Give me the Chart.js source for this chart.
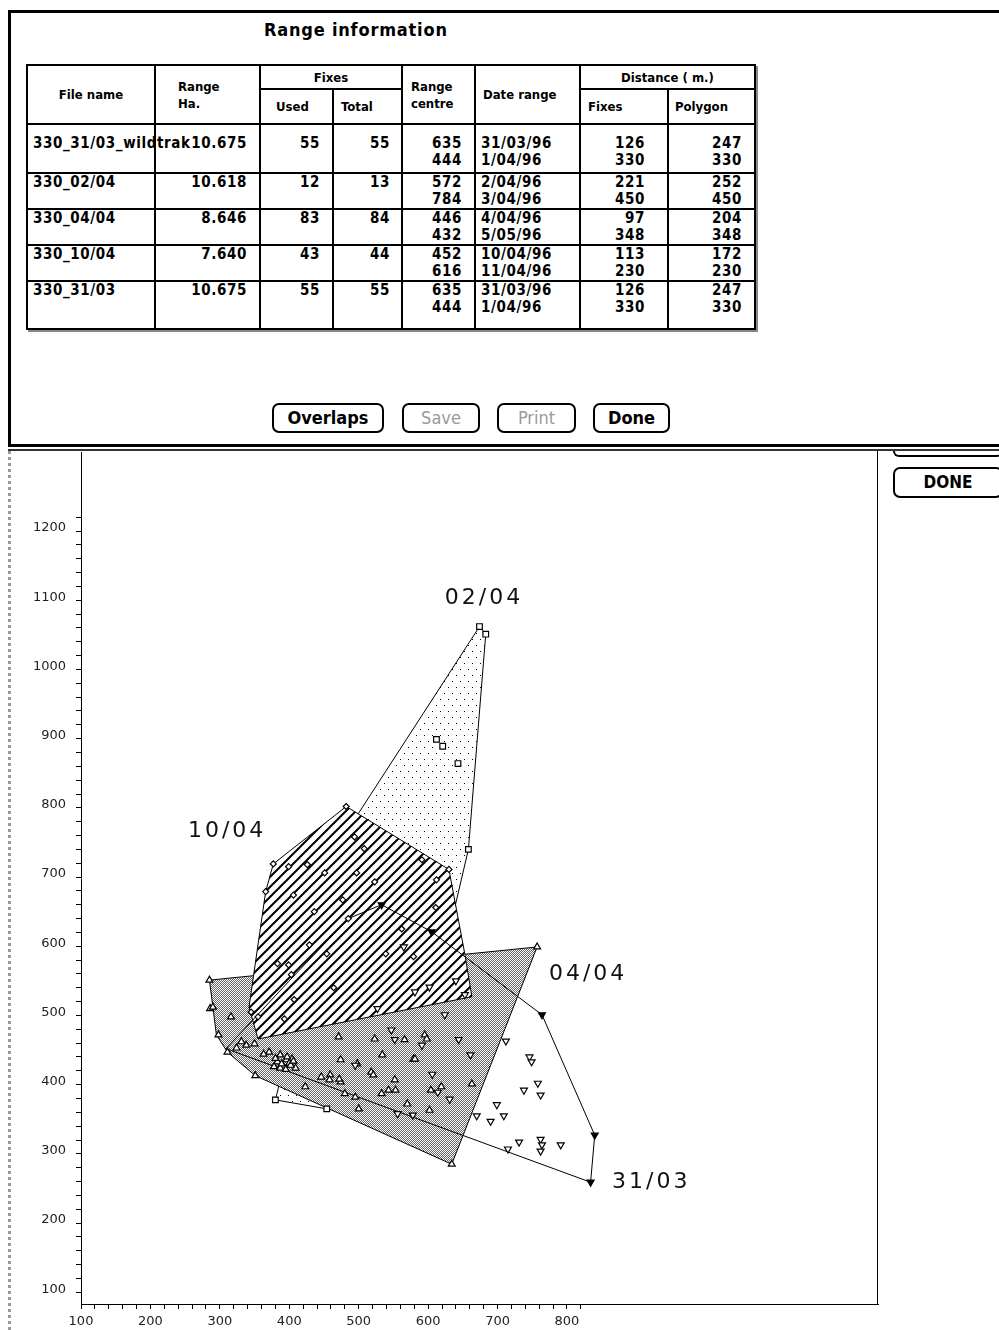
<!DOCTYPE html>
<html>
<head>
<meta charset="utf-8">
<script src="https://cdn.jsdelivr.net/npm/chart.js@4.4.1/dist/chart.umd.min.js"></script>
<style>
html, body { margin: 0; padding: 0; background: #fff; }
body { width: 999px; height: 1330px; position: relative; overflow: hidden; font-family: "DejaVu Sans Condensed", "DejaVu Sans", sans-serif; color: #000; }
#panel { position: absolute; left: 8px; top: 10px; width: 1000px; height: 437px; box-sizing: border-box; border: 3px solid #000; border-right: none; background: #fff; z-index: 2; }
#title { position: absolute; left: 264px; top: 19px; font-weight: bold; font-size: 18px; letter-spacing: 0.8px; z-index: 3; }
#rangeTable { position: absolute; left: 26px; top: 64px; border-collapse: collapse; table-layout: fixed; width: 727px; z-index: 3; box-shadow: 2px 2px 0 #888; background: #fff; }
#rangeTable th, #rangeTable td { border: 2px solid #000; padding: 0; overflow: visible; white-space: nowrap; }
#rangeTable th { font-size: 13px; font-weight: bold; text-align: center; vertical-align: middle; line-height: 17px; }
#rangeTable th.l { text-align: left; }
#rangeTable td { font-size: 15px; font-weight: bold; letter-spacing: 0.6px; line-height: 17px; vertical-align: top; }
.btn { position: absolute; top: 403px; height: 30px; box-sizing: border-box; border: 2px solid #000; border-radius: 7px; font-weight: bold; font-size: 18px; text-align: center; line-height: 26px; background: #fff; z-index: 3; }
.btn.off { color: #9a9a9a; font-weight: normal; }
#winLine { position: absolute; left: 8px; top: 449px; width: 991px; height: 2px; background: #333; z-index: 4; }
#leftEdge { position: absolute; left: 8px; top: 451px; height: 879px; border-left: 3px dotted #999; z-index: 4; }
#rightEdge { position: absolute; left: 877px; top: 451px; width: 1px; height: 854px; background: #000; z-index: 4; }
#chartBox { position: absolute; left: 0; top: 447px; width: 999px; height: 883px; z-index: 1; }
#doneTop { position: absolute; left: 893px; top: 451px; width: 110px; height: 6px; box-sizing: border-box; border: 2px solid #000; border-top: none; border-radius: 0 0 7px 7px; background: #fff; z-index: 3; }
#doneBtn { position: absolute; left: 893px; top: 467px; width: 110px; height: 31px; box-sizing: border-box; border: 2px solid #000; border-radius: 7px; font-weight: bold; font-size: 17px; line-height: 27px; text-align: center; background: #fff; z-index: 3; }
</style>
</head>
<body>
<div id="panel"></div>
<div id="title">Range information</div>
<table id="rangeTable">
  <colgroup>
    <col style="width:128px"><col style="width:105px"><col style="width:73px"><col style="width:69px">
    <col style="width:73px"><col style="width:105px"><col style="width:88px"><col style="width:87px">
  </colgroup>
  <thead>
    <tr style="height:24px">
      <th rowspan="2">File name</th>
      <th rowspan="2" class="l" style="padding-left:22px">Range<br>Ha.</th>
      <th colspan="2">Fixes</th>
      <th rowspan="2" class="l" style="padding-left:8px">Range<br>centre</th>
      <th rowspan="2" class="l" style="padding-left:7px">Date range</th>
      <th colspan="2">Distance ( m.)</th>
    </tr>
    <tr style="height:35px">
      <th class="l" style="padding-left:15px">Used</th>
      <th class="l" style="padding-left:7px">Total</th>
      <th class="l" style="padding-left:7px">Fixes</th>
      <th class="l" style="padding-left:6px">Polygon</th>
    </tr>
  </thead>
  <tbody id="tableBody"></tbody>
</table>
<div class="btn" style="left:272px; width:112px">Overlaps</div>
<div class="btn off" style="left:402px; width:78px">Save</div>
<div class="btn off" style="left:497px; width:79px">Print</div>
<div class="btn" style="left:593px; width:77px">Done</div>

<div id="chartBox"><canvas id="rangeChart" width="999" height="883"></canvas></div>
<div id="winLine"></div>
<div id="leftEdge"></div>
<div id="rightEdge"></div>
<div id="doneTop"></div>
<div id="doneBtn">DONE</div>

<script>
// ---- table values ----
const fileNames = ['330_31/03_wildtrak', '330_02/04', '330_04/04', '330_10/04', '330_31/03'];
const rangeHa = ['10.675', '10.618', '8.646', '7.640', '10.675'];
const fixesUsed = [55, 12, 83, 43, 55];
const fixesTotal = [55, 13, 84, 44, 55];
const centreX = [635, 572, 446, 452, 635];
const centreY = [444, 784, 432, 616, 444];
const dateStart = ['31/03/96', '2/04/96', '4/04/96', '10/04/96', '31/03/96'];
const dateEnd = ['1/04/96', '3/04/96', '5/05/96', '11/04/96', '1/04/96'];
const distFixesFirst = [126, 221, 97, 113, 126];
const distFixesSecond = [330, 450, 348, 230, 330];
const distPolyFirst = [247, 252, 204, 172, 247];
const distPolySecond = [330, 450, 348, 230, 330];

// ---- plot values (metres) ----
const rangeNames = ['02/04', '10/04', '04/04', '31/03'];
const labelX = [624, 254, 774, 865];
const labelY = [1103, 766, 560, 259];

const xTickLabels = [100, 200, 300, 400, 500, 600, 700, 800];
const yTickLabels = [100, 200, 300, 400, 500, 600, 700, 800, 900, 1000, 1100, 1200];

// polygons (convex hulls)
const poly0204X = [674, 683, 658, 637, 454, 380, 384, 417, 674];
const poly0204Y = [1062, 1051, 740, 650, 365, 378, 394, 664, 1062];
const poly1004X = [482, 377, 366, 342, 355, 663, 653, 630, 482];
const poly1004Y = [802, 719, 679, 512, 466, 527, 588, 711, 802];
const poly0404X = [285, 757, 634, 351, 311, 295, 290, 285];
const poly0404Y = [551, 599, 285, 413, 447, 472, 512, 551];
const poly3103X = [834, 840, 764, 605, 533, 485, 399, 309, 834];
const poly3103Y = [259, 327, 501, 621, 660, 640, 549, 452, 259];

// fixes
const fix0204X = [674, 683, 612, 621, 643, 658, 380, 454];
const fix0204Y = [1062, 1051, 899, 889, 864, 740, 378, 365];
const fix1004X = [482, 377, 366, 494, 508, 591, 612, 426, 399, 451, 497, 523, 406, 477, 436, 611, 485, 429, 454, 383, 399, 539, 579, 403, 464, 407, 393, 355, 345, 562, 630];
const fix1004Y = [802, 719, 679, 758, 741, 725, 696, 718, 715, 706, 706, 693, 674, 667, 650, 656, 640, 602, 589, 575, 573, 589, 585, 559, 540, 523, 495, 498, 505, 625, 711];
const fix0404X = [286, 316, 298, 338, 350, 371, 387, 396, 404, 423, 446, 459, 474, 471, 498, 518, 534, 566, 579, 595, 604, 543, 553, 570, 480, 495, 500, 663, 602, 523, 474, 757, 634, 351, 285, 311, 290, 383, 391, 400, 409, 387, 397, 331, 324, 363, 521, 552, 533, 472, 458, 581, 598, 619, 380, 389, 395, 402, 406, 378];
const fix0404Y = [510, 498, 472, 457, 459, 447, 443, 436, 437, 397, 411, 414, 404, 469, 430, 418, 443, 465, 437, 472, 392, 392, 392, 372, 387, 382, 365, 401, 363, 466, 436, 599, 285, 413, 551, 447, 512, 433, 427, 431, 424, 424, 440, 462, 453, 444, 414, 407, 387, 408, 407, 437, 466, 397, 438, 430, 422, 428, 434, 426];
const fix3103X = [712, 746, 749, 758, 738, 762, 699, 709, 670, 690, 731, 715, 762, 764, 762, 791, 565, 581, 602, 640, 653, 527, 624, 547, 552, 591, 644, 661, 495, 606, 614, 631, 556, 578];
const fix3103Y = [463, 440, 433, 402, 392, 385, 371, 355, 355, 347, 317, 307, 321, 313, 304, 313, 599, 534, 541, 550, 530, 510, 501, 479, 465, 457, 465, 443, 428, 415, 389, 379, 358, 356];
const vert3103X = [764, 840, 834, 533, 605];
const vert3103Y = [501, 327, 259, 660, 621];

function buildTable() {
    let body = document.getElementById('tableBody');
    let rowHeights = [49, 35, 36, 35, 48];
    for (let i = 0; i < fileNames.length; i++) {
        let tr = document.createElement('tr');
        tr.style.height = rowHeights[i] + 'px';
        let top = i === 0 ? '10px' : '0px';
        let cells = [
            [fileNames[i], 'left', 5],
            [rangeHa[i], 'right', 12],
            [fixesUsed[i], 'right', 12],
            [fixesTotal[i], 'right', 11],
            [centreX[i] + '<br>' + centreY[i], 'right', 12],
            [dateStart[i] + '<br>' + dateEnd[i], 'left', 5],
            [distFixesFirst[i] + '<br>' + distFixesSecond[i], 'right', 22],
            [distPolyFirst[i] + '<br>' + distPolySecond[i], 'right', 12]
        ];
        for (let j = 0; j < cells.length; j++) {
            let td = document.createElement('td');
            td.innerHTML = cells[j][0];
            td.style.textAlign = cells[j][1];
            td.style.paddingTop = top;
            if (cells[j][1] === 'left') td.style.paddingLeft = cells[j][2] + 'px';
            else td.style.paddingRight = cells[j][2] + 'px';
            tr.appendChild(td);
        }
        body.appendChild(tr);
    }
}

function toPoints(xs, ys) {
    let pts = [];
    for (let i = 0; i < xs.length; i++) pts.push({x: xs[i], y: ys[i]});
    return pts;
}

function makeTile(ctx, w, h, draw) {
    let c = document.createElement('canvas');
    c.width = w;
    c.height = h;
    let g = c.getContext('2d');
    g.fillStyle = '#fff';
    g.fillRect(0, 0, w, h);
    g.fillStyle = '#000';
    g.strokeStyle = '#000';
    draw(g);
    return ctx.createPattern(c, 'repeat');
}

function polygonDataset(label, xs, ys, fillStyle, order) {
    return {
        label: label,
        data: toPoints(xs, ys),
        showLine: true,
        fill: fillStyle ? 'shape' : false,
        backgroundColor: fillStyle || 'rgba(0,0,0,0)',
        borderColor: '#000',
        borderWidth: 1,
        tension: 0,
        pointRadius: 0,
        pointHoverRadius: 0,
        order: order
    };
}

function fixesDataset(label, xs, ys, style, rotation, radius, bg) {
    return {
        label: label,
        data: toPoints(xs, ys),
        showLine: false,
        pointStyle: style,
        rotation: rotation,
        pointRadius: radius,
        pointBackgroundColor: bg,
        pointBorderColor: '#000',
        pointBorderWidth: 1.2,
        order: 0
    };
}

const rangeLabelPlugin = {
    id: 'rangeLabels',
    afterDatasetsDraw(chart) {
        const c = chart.ctx;
        const xs = chart.scales.x;
        const ys = chart.scales.y;
        c.save();
        c.font = '22px "DejaVu Sans"';
        c.letterSpacing = '3px';
        c.fillStyle = '#111';
        c.textAlign = 'left';
        c.textBaseline = 'middle';
        for (let i = 0; i < rangeNames.length; i++) {
            c.fillText(rangeNames[i], xs.getPixelForValue(labelX[i]), ys.getPixelForValue(labelY[i]));
        }
        c.restore();
    }
};

function createRangeChart() {
    const canvas = document.getElementById('rangeChart');
    const ctx = canvas.getContext('2d');

    const dotFill = makeTile(ctx, 8, 12, g => { g.fillRect(0, 0, 1, 1); g.fillRect(4, 6, 1, 1); });
    const stippleFill = makeTile(ctx, 2, 2, g => {
        g.fillStyle = '#666';
        g.fillRect(0, 0, 1, 1);
        g.fillRect(1, 1, 1, 1);
    });
    const hatchFill = makeTile(ctx, 10, 10, g => {
        g.lineWidth = 2;
        g.beginPath();
        g.moveTo(-1, 11); g.lineTo(11, -1);
        g.moveTo(-1, 1); g.lineTo(1, -1);
        g.moveTo(9, 11); g.lineTo(11, 9);
        g.stroke();
    });

    let xMinor = [];
    for (let v = 100; v <= 820; v += 20) xMinor.push(v);
    let yMinor = [];
    for (let v = 100; v <= 1220; v += 20) yMinor.push(v);

    const tickFont = {family: 'DejaVu Sans', size: 13};

    new Chart(ctx, {
        type: 'scatter',
        data: {
            datasets: [
                fixesDataset('31/03 ends', vert3103X, vert3103Y, 'triangle', 180, 4, '#000'),
                fixesDataset('31/03 fixes', fix3103X, fix3103Y, 'triangle', 180, 4, '#fff'),
                fixesDataset('04/04 fixes', fix0404X, fix0404Y, 'triangle', 0, 4, '#fff'),
                fixesDataset('10/04 fixes', fix1004X, fix1004Y, 'rectRot', 0, 3, '#fff'),
                fixesDataset('02/04 fixes', fix0204X, fix0204Y, 'rect', 0, 4, '#fff'),
                polygonDataset('31/03', poly3103X, poly3103Y, null, 1),
                polygonDataset('10/04', poly1004X, poly1004Y, hatchFill, 2),
                polygonDataset('04/04', poly0404X, poly0404Y, stippleFill, 3),
                polygonDataset('02/04', poly0204X, poly0204Y, dotFill, 4)
            ]
        },
        options: {
            responsive: false,
            animation: false,
            events: [],
            layout: {
                padding: {left: 0, right: 121, top: 4, bottom: 0}
            },
            plugins: {
                legend: {display: false},
                tooltip: {enabled: false}
            },
            scales: {
                x: {
                    type: 'linear',
                    min: 100,
                    max: 1248,
                    afterBuildTicks: s => { s.ticks = xMinor.map(v => ({value: v})); },
                    afterFit: s => { s.height = 26; s.paddingLeft = 0; s.paddingRight = 0; },
                    grid: {drawOnChartArea: false, drawTicks: true, tickLength: 5, color: '#000'},
                    border: {display: true, color: '#000', width: 1},
                    ticks: {
                        autoSkip: false,
                        maxRotation: 0,
                        padding: 5,
                        color: '#222',
                        font: tickFont,
                        callback: v => xTickLabels.includes(v) ? String(v) : ''
                    }
                },
                y: {
                    type: 'linear',
                    min: 83,
                    max: 1314,
                    afterBuildTicks: s => { s.ticks = yMinor.map(v => ({value: v})); },
                    afterFit: s => { s.width = 81; s.paddingTop = 0; s.paddingBottom = 0; },
                    grid: {drawOnChartArea: false, drawTicks: true, tickLength: 5, color: '#000'},
                    border: {display: true, color: '#000', width: 1},
                    ticks: {
                        autoSkip: false,
                        padding: 10,
                        labelOffset: -3,
                        color: '#222',
                        font: tickFont,
                        callback: v => yTickLabels.includes(v) ? String(v) : ''
                    }
                }
            }
        },
        plugins: [rangeLabelPlugin]
    });
}

buildTable();
createRangeChart();
</script>
</body>
</html>
